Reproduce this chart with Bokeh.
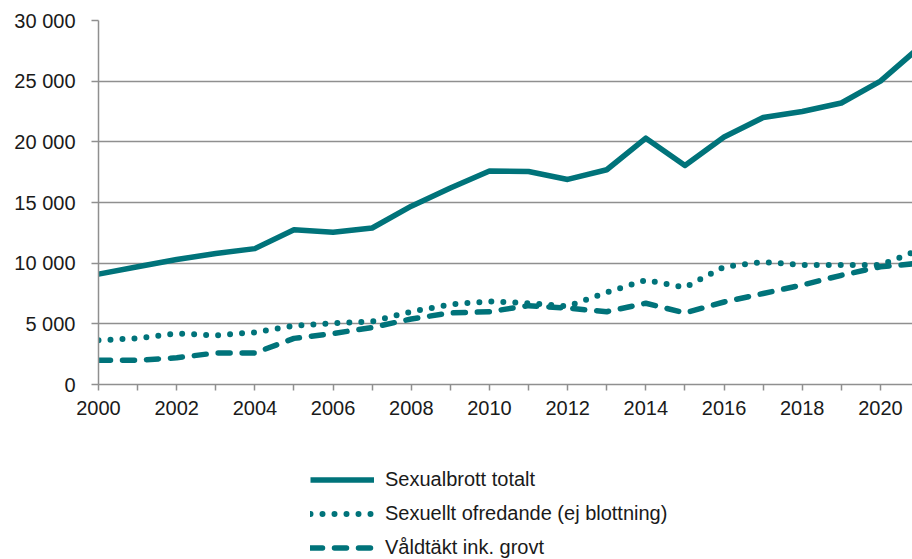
from bokeh.plotting import figure
from bokeh.layouts import column
from bokeh.models import Range1d, FixedTicker, Legend, LegendItem
from bokeh.embed import file_html
from bokeh.resources import INLINE

years = list(range(2000, 2022))
totalt = [9100, 9700, 10300, 10800, 11200, 12750, 12550, 12900, 14700, 16200,
          17600, 17550, 16900, 17700, 20300, 18050, 20400, 22000, 22500, 23200,
          25000, 27800]
ofredande = [3650, 3800, 4200, 4050, 4300, 4850, 5050, 5200, 6000, 6600,
             6850, 6700, 6450, 7600, 8600, 8000, 9700, 10100, 9850, 9850,
             9850, 11100]
valdtakt = [2000, 2000, 2200, 2600, 2600, 3800, 4200, 4700, 5400, 5900,
            6000, 6500, 6300, 6000, 6700, 5900, 6800, 7500, 8200, 9000,
            9700, 10000]

series_names = ["Sexualbrott totalt", "Sexuellt ofredande (ej blottning)", "Våldtäkt ink. grovt"]
y_ticks = [0, 5000, 10000, 15000, 20000, 25000, 30000]
y_tick_labels = ["0", "5 000", "10 000", "15 000", "20 000", "25 000", "30 000"]
x_ticks = list(range(2000, 2021))
x_tick_labels = [str(y) if y % 2 == 0 else "" for y in x_ticks]

TEAL = "#00737a"
GRID = "#8f8f8f"
FONT = "Liberation Sans"
TEXT = "#1a1a1a"

series = [totalt, ofredande, valdtakt]
styles = [dict(line_width=5.5, line_join="round"),
          dict(line_width=6, line_dash="0 12", line_cap="round", line_join="round"),
          dict(line_width=5.5, line_dash="12 12", line_cap="round", line_join="round")]

# ---- main chart ----
p = figure(width=912, height=430, output_backend="svg", toolbar_location=None,
           x_range=Range1d(2000, 2020.82), y_range=Range1d(0, 30000),
           min_border_left=98, min_border_right=0, min_border_top=20,
           min_border_bottom=46)
p.outline_line_color = None
p.background_fill_color = "white"
p.border_fill_color = "white"

for ys, st in zip(series, styles):
    p.line(years, ys, line_color=TEAL, **st)

p.xgrid.visible = False
p.ygrid.ticker = FixedTicker(ticks=y_ticks)
p.ygrid.grid_line_color = GRID
p.ygrid.grid_line_width = 1.3

p.xaxis.ticker = FixedTicker(ticks=x_ticks)
p.xaxis.major_label_overrides = {t: l for t, l in zip(x_ticks, x_tick_labels)}
p.yaxis.ticker = FixedTicker(ticks=y_ticks)
p.yaxis.major_label_overrides = {t: l for t, l in zip(y_ticks, y_tick_labels)}

for ax in (p.xaxis, p.yaxis):
    ax.axis_line_color = GRID
    ax.axis_line_width = 1.5
    ax.major_tick_line_color = GRID
    ax.major_tick_line_width = 1.5
    ax.major_tick_in = 0
    ax.minor_tick_line_color = None
    ax.major_label_text_font = FONT
    ax.major_label_text_font_size = "20px"
    ax.major_label_text_color = TEXT
p.xaxis.major_tick_out = 6
p.xaxis.major_label_standoff = 10
p.yaxis.major_tick_out = 7
p.yaxis.major_label_standoff = 16

# ---- legend strip below (same series, drawn out of its view, only for the key) ----
q = figure(width=912, height=129, output_backend="svg", toolbar_location=None,
           x_range=p.x_range, y_range=Range1d(-2, -1),
           x_axis_location=None, y_axis_location=None,
           min_border_left=98, min_border_right=0, min_border_top=0,
           min_border_bottom=0)
q.outline_line_color = None
q.grid.visible = False
q.border_fill_color = "white"
q.background_fill_color = "white"

items = []
for name, ys, st in zip(series_names, series, styles):
    r = q.line(years, ys, line_color=TEAL, **st)
    items.append(LegendItem(label=name, renderers=[r]))

legend = Legend(items=items, location=(212, 0), orientation="vertical",
                glyph_width=64, glyph_height=21, label_height=21,
                label_standoff=11, spacing=11, padding=0, margin=0,
                label_text_font=FONT, label_text_font_size="20px",
                label_text_color=TEXT,
                border_line_color=None, background_fill_alpha=0)
q.add_layout(legend, "center")

layout = column(p, q, spacing=0)
open("out.html", "w").write(file_html(layout, INLINE))
